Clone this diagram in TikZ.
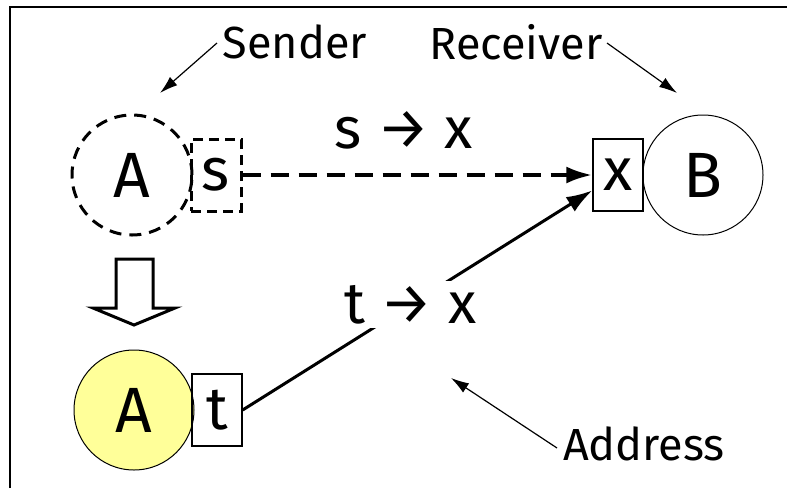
\documentclass[tikz,border=0pt]{standalone}
\usepackage{fontspec}
\setmainfont{Fira Sans}
\usetikzlibrary{positioning,arrows.meta,calc}
\tikzset{>=latex}
\definecolor{paleyellow}{RGB}{255,255,153}

\begin{document}
\begin{tikzpicture}[x=1pt,y=-1pt,
    every node/.style={inner sep=0pt},
    agent/.style={circle,draw,minimum size=120pt,font=\fontsize{64}{64}\selectfont},
    addr/.style={rectangle,draw,minimum width=50pt,minimum height=72pt,font=\fontsize{60}{60}\selectfont},
    caption/.style={font=\fontsize{45}{45}\selectfont},
    mapping/.style={font=\fontsize{58}{58}\selectfont},
    pointer/.style={-{Latex[length=18pt,width=11pt]},line width=1.2pt}]
    \useasboundingbox (0,0) rectangle (787,488);
    \draw[line width=2pt] (10,488) -- (10,7) -- (787,7);
    % old binding
    \node[agent, line width=3pt, dash pattern=on 12pt off 8pt] (oldA) at (132,175) {A};
    \node[addr, line width=3pt, dash pattern=on 10pt off 6pt] (sbox) at (216,175) {s};
    % receiver
    \node[addr, line width=1.3pt] (xbox) at (618,175) {x};
    \node[agent, line width=1pt] (recvB) at (703,175) {B};
    % new binding
    \node[agent, line width=1pt, fill=paleyellow] (newA) at (134,410) {A};
    \node[addr, line width=1.3pt] (tbox) at (217,410) {t};
    \draw[line width=4pt, dash pattern=on 18pt off 10pt, -{Latex[length=26pt,width=17pt]}] (sbox) -- (xbox);
    \node[mapping] (smap) at (404,130) {s → x};
    \draw[line width=3pt, -{Latex[length=26pt,width=17pt]}] (tbox.east) -- (xbox.211)
        node[mapping, fill=white, inner sep=4pt, pos=.48] (tmap) {t → x};
    % move
    \draw[line width=3pt, line join=miter] (116,259) -- (153,259) -- (153,308) -- (175,308)
        -- (134,325) -- (93,308) -- (116,308) -- cycle;
    % captions
    \node[caption] (sender) at (295,42) {Sender};
    \node[caption] (receiver) at (516,42) {Receiver};
    \node[caption] (address) at (644,444) {Address};
    \coordinate (senderpt) at (160,93);
    \coordinate (receiverpt) at (677,93);
    \coordinate (addresspt) at (451,378);
    \draw[pointer] (217,43) -- (senderpt);
    \draw[pointer] (607,43) -- (receiverpt);
    \draw[pointer] (557,448) -- (addresspt);
\end{tikzpicture}
\end{document}
